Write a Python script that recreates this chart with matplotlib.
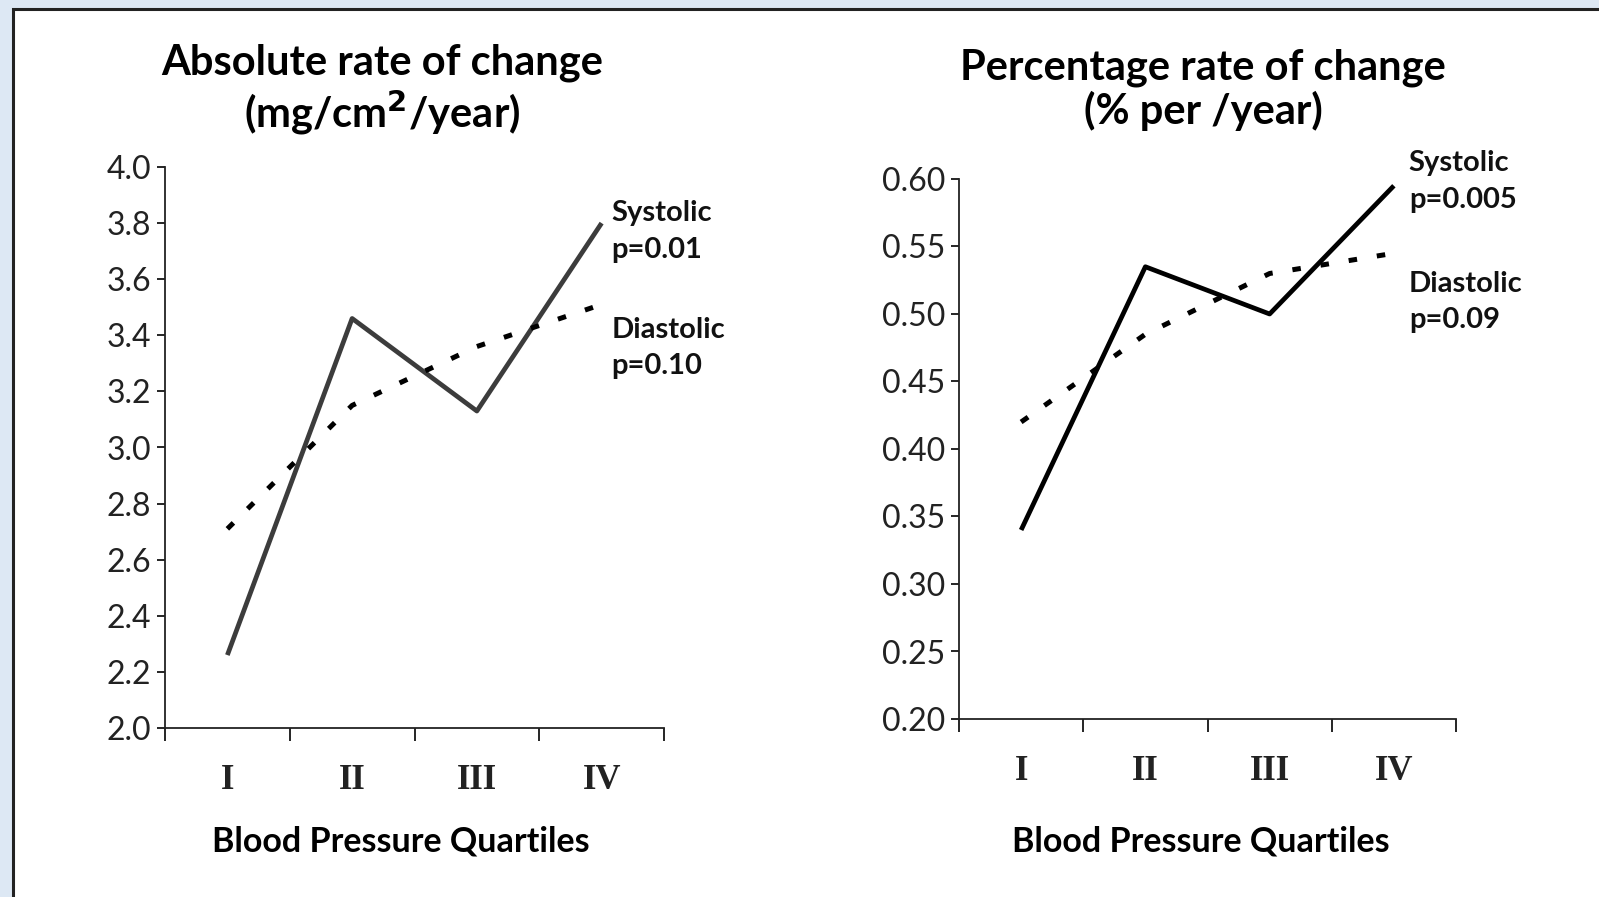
import matplotlib
matplotlib.use("Agg")
import matplotlib.pyplot as plt
from matplotlib.patches import Rectangle

# quartiles on the x axis
quartiles = ["I", "II", "III", "IV"]

# absolute rate of change (mg/cm2/year)
abs_systolic = [2.26, 3.46, 3.13, 3.80]
abs_diastolic = [2.71, 3.15, 3.36, 3.51]

# percentage rate of change (% per year)
pct_systolic = [0.34, 0.535, 0.50, 0.595]
pct_diastolic = [0.42, 0.485, 0.53, 0.545]

abs_yticks = [2.0, 2.2, 2.4, 2.6, 2.8, 3.0, 3.2, 3.4, 3.6, 3.8, 4.0]
pct_yticks = [0.20, 0.25, 0.30, 0.35, 0.40, 0.45, 0.50, 0.55, 0.60]

W, H = 1599, 897
SANS = ["Lato", "DejaVu Sans"]
SERIF = ["Liberation Serif", "DejaVu Serif"]

fig = plt.figure(figsize=(W / 100, H / 100), dpi=100)
fig.patch.set_facecolor("#dde8f4")

# white page with a dark frame, behind the axes
frame = Rectangle((13 / W, -0.05), 1.05, (H - 9) / H + 0.05,
                  transform=fig.transFigure, facecolor="white",
                  edgecolor="#222222", linewidth=2.2, zorder=-10)
fig.patches.append(frame)


def px_axes(x0, y0, x1, y1):
    return fig.add_axes([x0 / W, 1 - y1 / H, (x1 - x0) / W, (y1 - y0) / H])


def fig_text(x, y, txt, **kw):
    # x, y in pixels from the top-left corner
    fig.text(x / W, 1 - y / H, txt, family=SANS, fontweight="bold",
             ha="center", va="center", **kw)


def panel(ax, sys_vals, dia_vals, yticks, fmt, sys_color):
    ax.set_facecolor("none")
    xs = [i + 0.5 for i in range(len(quartiles))]
    ax.plot(xs, sys_vals, color=sys_color, lw=3.4, solid_capstyle="butt")
    ax.plot(xs, dia_vals, color="black", lw=3.6, linestyle=(0, (1.7, 4.0)),
            dash_capstyle="butt")
    ax.set_xlim(0, 4)
    ax.set_ylim(yticks[0], yticks[-1])
    ax.set_yticks(yticks)
    ax.set_yticklabels([fmt.format(v) for v in yticks], family=SANS,
                       fontsize=23, color="#222222")
    ax.set_xticks(range(5))
    ax.set_xticklabels([""] * 5)
    ax.set_xticks(xs, minor=True)
    ax.set_xticklabels(quartiles, minor=True, family=SERIF, fontweight="bold",
                       fontsize=25, color="#222222")
    ax.tick_params(axis="x", which="major", direction="out", length=9,
                   width=1.2)
    ax.tick_params(axis="x", which="minor", length=0, pad=26)
    ax.tick_params(axis="y", direction="out", length=6, width=1.2, pad=4)
    for s in ["top", "right"]:
        ax.spines[s].set_visible(False)
    for s in ["left", "bottom"]:
        ax.spines[s].set_linewidth(1.3)
        ax.spines[s].set_color("#222222")


def series_label(ax, x, y, txt):
    ax.text(x, y, txt, family=SANS, fontweight="bold", fontsize=21,
            va="center", ha="left", linespacing=1.5, clip_on=False,
            color="#111111")


ax1 = px_axes(165, 167, 664, 728)
panel(ax1, abs_systolic, abs_diastolic, abs_yticks, "{:.1f}", "#3c3c3c")
series_label(ax1, 3.58, 3.77, "Systolic\np=0.01")
series_label(ax1, 3.58, 3.354, "Diastolic\np=0.10")

ax2 = px_axes(959, 179, 1456, 719)
panel(ax2, pct_systolic, pct_diastolic, pct_yticks, "{:.2f}", "black")
series_label(ax2, 3.62, 0.598, "Systolic\np=0.005")
series_label(ax2, 3.62, 0.509, "Diastolic\np=0.09")

# panel titles and axis captions
fig_text(382, 90, "Absolute rate of change\n(mg/cm$^\\mathbf{2}$/year)",
         fontsize=30, linespacing=1.13)
fig_text(1203, 90, "Percentage rate of change\n(% per /year)",
         fontsize=30, linespacing=1.13)
fig_text(401, 841, "Blood Pressure Quartiles", fontsize=24.5)
fig_text(1201, 841, "Blood Pressure Quartiles", fontsize=24.5)

fig.savefig("out.png", dpi=100, facecolor=fig.get_facecolor())
